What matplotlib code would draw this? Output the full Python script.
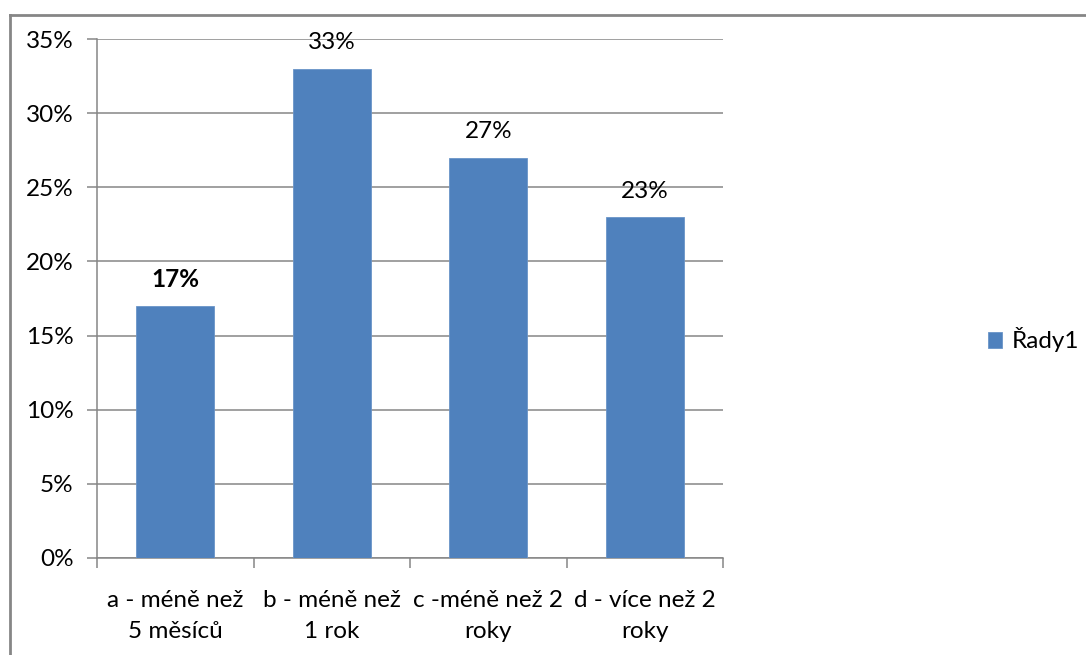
import matplotlib
matplotlib.use('Agg')
from matplotlib import pyplot as plt
from matplotlib.lines import Line2D
from matplotlib.ticker import MultipleLocator, PercentFormatter

categories = ['a - méně než\n5 měsíců', 'b - méně než\n1 rok',
              'c -méně než 2\nroky', 'd - více než 2\nroky']
values = [17, 33, 27, 23]
value_labels = ['17%', '33%', '27%', '23%']
series_name = 'Řady1'

plt.rcParams['font.family'] = ['Lato', 'DejaVu Sans']
plt.rcParams['font.size'] = 17.5

W, H = 1086, 655
fig = plt.figure(figsize=(W / 100, H / 100), dpi=100)
ax = fig.add_axes([97 / W, 1 - 558 / H, (723 - 97) / W, (558 - 39) / H])

grey = '#868686'
bar_color = '#4F81BD'

x = list(range(len(values)))
bars = ax.bar(x, values, width=0.5, color=bar_color, edgecolor='#6a94c8',
              linewidth=0.6, label=series_name, zorder=3)

for i, (b, lab) in enumerate(zip(bars, value_labels)):
    ax.annotate(lab, (b.get_x() + b.get_width() / 2, b.get_height()),
                xytext=(0, 11), textcoords='offset points', ha='center',
                va='bottom', color='#000000',
                fontweight='bold' if i == 0 else 'normal')

ax.set_xlim(-0.5, len(values) - 0.5)
ax.set_ylim(0, 35)
ax.yaxis.set_major_locator(MultipleLocator(5))
ax.yaxis.set_major_formatter(PercentFormatter(decimals=0))
ax.grid(axis='y', color=grey, linewidth=1.1, zorder=0)

# category ticks sit between the bars, labels centered under them
ax.set_xticks([i - 0.5 for i in range(len(values) + 1)])
ax.set_xticklabels([])
ax.set_xticks(x, minor=True)
ax.set_xticklabels(categories, minor=True, linespacing=1.6)
ax.tick_params(axis='x', which='major', length=7, width=1.1, color=grey,
               direction='out')
ax.tick_params(axis='x', which='minor', length=0, pad=23)
ax.tick_params(axis='y', length=7, width=1.1, color=grey, pad=10)

for s in ['top', 'right']:
    ax.spines[s].set_visible(False)
for s in ['left', 'bottom']:
    ax.spines[s].set_color(grey)
    ax.spines[s].set_linewidth(1.1)

fig.legend(handles=[bars], labels=[series_name], loc='center left',
           bbox_to_anchor=(966 / W, 1 - 340 / H), frameon=False,
           handlelength=0.6, handleheight=0.6, handletextpad=0.4)

# outer chart border (cropped on right and bottom in the original)
fig.add_artist(Line2D([10 / W, 1.0], [1 - 15 / H, 1 - 15 / H],
                      transform=fig.transFigure, color=grey, linewidth=2))
fig.add_artist(Line2D([10 / W, 10 / W], [0.0, 1 - 15 / H],
                      transform=fig.transFigure, color=grey, linewidth=2))

fig.savefig('out.png', dpi=100)
